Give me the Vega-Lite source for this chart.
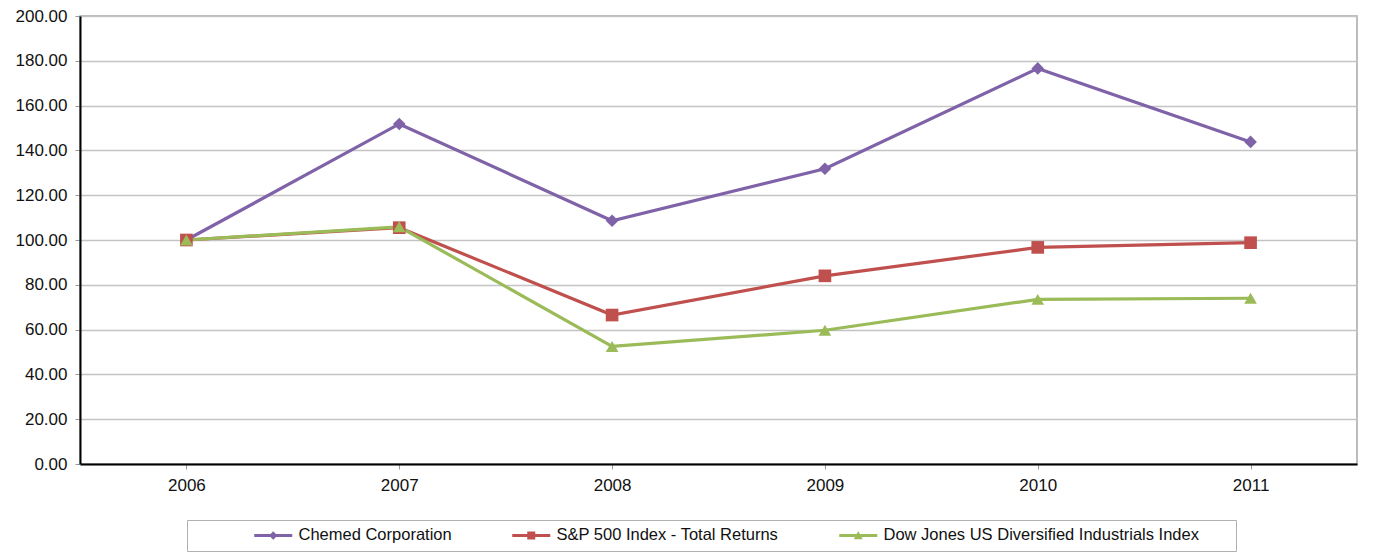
{
  "$schema": "https://vega.github.io/schema/vega-lite/v6.json",
  "autosize": {"type": "none"},
  "width": 1277,
  "height": 448,
  "padding": {"left": 80, "top": 16, "right": 17, "bottom": 95},
  "background": "white",
  "config": {
    "font": "Liberation Sans",
    "view": {"stroke": "#A6A6A6", "strokeWidth": 1.5},
    "axis": {"labelFont": "Liberation Sans", "labelFontSize": 17, "labelColor": "#111111", "domainColor": "#000000", "domainWidth": 2, "tickColor": "#999999", "tickSize": 5, "title": null},
    "legend": {
      "orient": "none", "legendX": 107, "legendY": 504, "direction": "horizontal", "titleOrient": "right", "titlePadding": 30, "titleFontSize": 10,
      "labelFont": "Liberation Sans", "labelFontSize": 16.5, "labelColor": "#111111", "labelLimit": 500,
      "strokeColor": "#B0B0B0", "padding": 7, "fillColor": "white",
      "symbolSize": 100, "symbolOffset": 71, "labelOffset": 17, "columnPadding": -9,
      "symbolStrokeWidth": 0, "symbolOpacity": 1
    }
  },
  "data": {
    "values": [
      {"year": "2006", "series": "Chemed Corporation", "value": 100},
      {"year": "2007", "series": "Chemed Corporation", "value": 151.8},
      {"year": "2008", "series": "Chemed Corporation", "value": 108.6},
      {"year": "2009", "series": "Chemed Corporation", "value": 131.8},
      {"year": "2010", "series": "Chemed Corporation", "value": 176.6},
      {"year": "2011", "series": "Chemed Corporation", "value": 143.8},
      {"year": "2006", "series": "S&P 500 Index - Total Returns", "value": 100},
      {"year": "2007", "series": "S&P 500 Index - Total Returns", "value": 105.5},
      {"year": "2008", "series": "S&P 500 Index - Total Returns", "value": 66.5},
      {"year": "2009", "series": "S&P 500 Index - Total Returns", "value": 84.0},
      {"year": "2010", "series": "S&P 500 Index - Total Returns", "value": 96.7},
      {"year": "2011", "series": "S&P 500 Index - Total Returns", "value": 98.8},
      {"year": "2006", "series": "Dow Jones US Diversified Industrials Index", "value": 100},
      {"year": "2007", "series": "Dow Jones US Diversified Industrials Index", "value": 105.9},
      {"year": "2008", "series": "Dow Jones US Diversified Industrials Index", "value": 52.5},
      {"year": "2009", "series": "Dow Jones US Diversified Industrials Index", "value": 59.7},
      {"year": "2010", "series": "Dow Jones US Diversified Industrials Index", "value": 73.5},
      {"year": "2011", "series": "Dow Jones US Diversified Industrials Index", "value": 74.0}
    ]
  },
  "encoding": {
    "x": {"field": "year", "type": "ordinal", "scale": {"type": "point", "padding": 0.5},
      "axis": {"labelAngle": 0, "labelPadding": 8, "grid": false}},
    "y": {"field": "value", "type": "quantitative", "scale": {"domain": [0, 200], "nice": false},
      "axis": {"values": [0, 20, 40, 60, 80, 100, 120, 140, 160, 180, 200], "format": ".2f", "labelPadding": 8, "grid": true, "gridColor": "#C4C4C4", "gridWidth": 1.3}}
  },
  "layer": [
    {"mark": {"type": "line", "strokeWidth": 3.2},
      "encoding": {"color": {"field": "series", "type": "nominal",
        "scale": {"domain": ["Chemed Corporation", "S&P 500 Index - Total Returns", "Dow Jones US Diversified Industrials Index"], "range": ["#7F62A8", "#C0504D", "#9BBB59"]},
        "legend": null}}},
    {"mark": {"type": "point", "filled": true, "opacity": 1, "size": 160},
      "encoding": {
        "color": {"field": "series", "type": "nominal", "legend": null},
        "shape": {"field": "series", "type": "nominal",
          "scale": {"domain": ["Chemed Corporation", "S&P 500 Index - Total Returns", "Dow Jones US Diversified Industrials Index"], "range": ["diamond", "square", "triangle-up"]},
          "legend": null}}},
    {"mark": {"type": "point", "filled": true, "opacity": 0},
      "encoding": {
        "fill": {"field": "series", "type": "nominal",
          "scale": {"domain": ["Chemed Corporation", "S&P 500 Index - Total Returns", "Dow Jones US Diversified Industrials Index"], "range": ["#7F62A8", "#C0504D", "#9BBB59"]},
          "legend": {"title": " "}},
        "shape": {"field": "series", "type": "nominal",
          "scale": {"domain": ["Chemed Corporation", "S&P 500 Index - Total Returns", "Dow Jones US Diversified Industrials Index"],
            "range": ["M-3.8,-0.3H3.8V0.3H-3.8ZM0,-0.85L0.85,0L0,0.85L-0.85,0Z", "M-3.8,-0.3H3.8V0.3H-3.8ZM-0.8,-0.8H0.8V0.8H-0.8Z", "M-3.8,-0.3H3.8V0.3H-3.8ZM0,-0.9L0.9,0.75H-0.9Z"]},
          "legend": {"title": " "}}}}
  ],
  "resolve": {"scale": {"shape": "independent", "fill": "independent"}}
}
